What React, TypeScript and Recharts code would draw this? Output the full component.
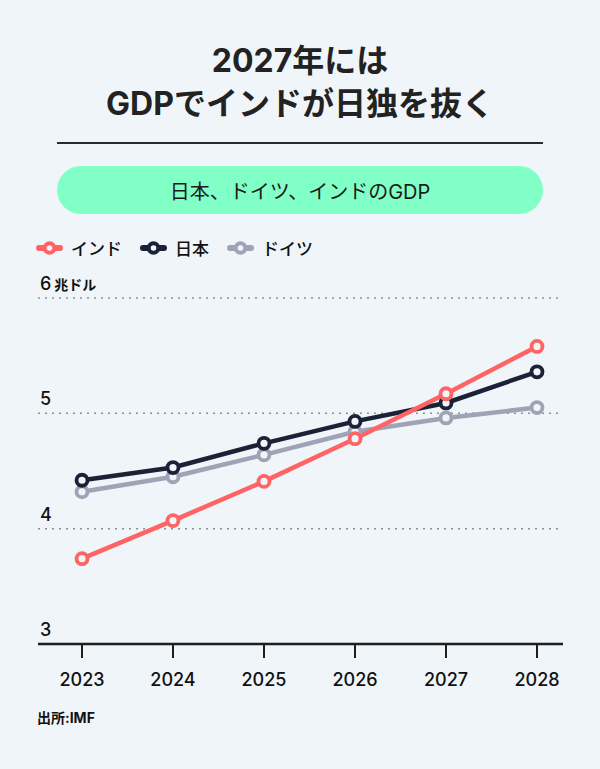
import React from 'react';
import { LineChart, Line, XAxis, YAxis, CartesianGrid } from 'recharts';

const years = ['2023', '2024', '2025', '2026', '2027', '2028'];
const india = [3.74, 4.07, 4.41, 4.78, 5.17, 5.58];
const japan = [4.42, 4.53, 4.74, 4.93, 5.09, 5.36];
const germany = [4.32, 4.45, 4.64, 4.84, 4.96, 5.05];
const yTicks = [3, 4, 5, 6];

const series = [
  { key: 'india', name: 'インド', color: '#ff6363', values: india },
  { key: 'japan', name: '日本', color: '#1b2238', values: japan },
  { key: 'germany', name: 'ドイツ', color: '#9ea4b5', values: germany },
];

const data = years.map((y, i) => ({
  year: y,
  india: india[i],
  japan: japan[i],
  germany: germany[i],
}));

const BG = '#f0f5f9';
const FONT = 'Inter, "Noto Sans CJK JP", "Noto Sans", sans-serif';

const YTick = (props: any) => {
  const { y, payload } = props;
  const v = payload.value;
  return (
    <text x={40} y={y - 8} textAnchor="start" fill="#111" fontFamily={FONT} fontSize={18} fontWeight={500}>
      {v}
      {v === 6 ? <tspan fontSize={14} fontWeight={700} dx={3} fontFamily='"Noto Sans CJK JP"'>兆ドル</tspan> : null}
    </text>
  );
};

const Legend = () => (
  <div style={{ position: 'absolute', left: 36, top: 235, display: 'flex', alignItems: 'center', fontFamily: FONT, fontSize: 17, fontWeight: 500, color: '#111' }}>
    {series.map((s) => (
      <div key={s.key} style={{ display: 'flex', alignItems: 'center', marginRight: 18 }}>
        <svg width={27} height={16} style={{ marginRight: 8 }}>
          <line x1={3} y1={8} x2={24} y2={8} stroke={s.color} strokeWidth={6} strokeLinecap="round" />
          <circle cx={13.5} cy={8} r={4.8} fill={BG} stroke={s.color} strokeWidth={4} />
        </svg>
        <span>{s.name}</span>
      </div>
    ))}
  </div>
);

export default function App() {
  return (
    <div style={{ position: 'absolute', left: 0, top: 0, width: 600, height: 769, background: BG, fontFamily: FONT, overflow: 'hidden' }}>
      <div style={{ position: 'absolute', left: 0, top: 39, width: 600, textAlign: 'center', fontSize: 32, fontWeight: 700, color: '#222', lineHeight: '43px' }}>
        2027年には<br />GDPでインドが日独を抜く
      </div>
      <div style={{ position: 'absolute', left: 57, top: 142, width: 486, height: 2, background: '#2a2a2a' }} />
      <div style={{ position: 'absolute', left: 57, top: 166, width: 486, height: 48, borderRadius: 24, background: '#80ffc6', display: 'flex', alignItems: 'center', justifyContent: 'center', fontSize: 20, color: '#1a1a1a' }}>
        日本、ドイツ、インドのGDP
      </div>
      <Legend />
      <div style={{ position: 'absolute', left: 0, top: 260 }}>
        <LineChart width={600} height={440} data={data} margin={{ top: 38, left: 0, right: 37, bottom: 0 }}>
          <CartesianGrid vertical={false} stroke="#8a8f99" strokeDasharray="2 5" strokeWidth={1.5} />
          <XAxis
            dataKey="year"
            height={56}
            padding={{ left: 44, right: 26 }}
            axisLine={{ stroke: '#1e1e1e', strokeWidth: 2.5 }}
            tickLine={{ stroke: '#1e1e1e', strokeWidth: 2 }}
            tickSize={14}
            tickMargin={15}
            tick={{ fill: '#111', fontSize: 18, fontFamily: FONT, fontWeight: 500 }}
          />
          <YAxis width={38} domain={[3, 6]} ticks={yTicks} axisLine={false} tickLine={false} tick={<YTick />} />
          {series.slice().reverse().map((s) => (
            <Line
              key={s.key}
              dataKey={s.key}
              stroke={s.color}
              strokeWidth={4.5}
              dot={{ r: 5.5, fill: BG, stroke: s.color, strokeWidth: 3.8 }}
              isAnimationActive={false}
            />
          ))}
        </LineChart>
      </div>
      <div style={{ position: 'absolute', left: 37, top: 707, fontSize: 14, color: '#111', fontWeight: 700 }}>
        出所:IMF
      </div>
    </div>
  );
}
